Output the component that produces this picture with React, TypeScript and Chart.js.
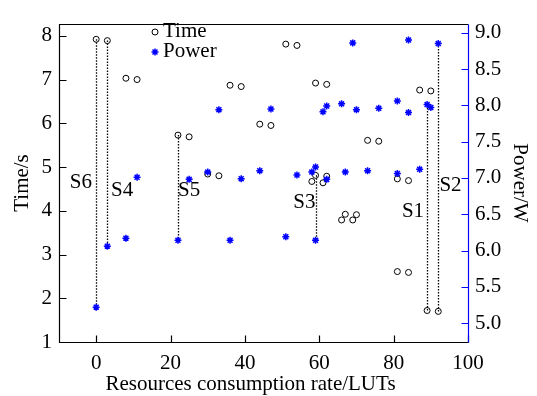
import { useEffect, useRef } from 'react';
import { Chart, registerables } from 'chart.js';
Chart.register(...registerables);

// ---- data ----
const timeX = [0, 3, 8, 11, 22, 25, 30, 33, 36, 39, 44, 47, 51, 54, 58, 59, 61, 62, 59, 62, 66, 67, 69, 70, 73, 76, 81, 84, 81, 84, 87, 90, 89, 92];
const timeY = [7.92, 7.89, 7.03, 7.0, 5.73, 5.69, 4.84, 4.8, 6.87, 6.84, 5.98, 5.95, 7.81, 7.78, 4.67, 4.81, 4.64, 4.79, 6.92, 6.89, 3.79, 3.92, 3.79, 3.91, 5.61, 5.59, 4.73, 4.69, 2.61, 2.59, 6.76, 6.74, 1.72, 1.7];
const powerX = [0, 3, 8, 11, 22, 25, 30, 33, 36, 39, 44, 47, 51, 54, 58, 59, 59, 61, 62, 62, 66, 67, 69, 70, 73, 76, 81, 81, 84, 84, 87, 89, 90, 92];
const powerY = [5.22, 6.06, 6.17, 7.01, 6.14, 6.98, 7.08, 7.94, 6.14, 6.99, 7.1, 7.95, 6.19, 7.04, 7.08, 7.15, 6.14, 7.91, 7.99, 6.98, 8.02, 7.08, 8.86, 7.94, 7.1, 7.96, 7.06, 8.06, 8.9, 7.9, 7.12, 8.01, 7.97, 8.85];

const xMin = -10, xMax = 100, xStep = 20;
const leftMin = 1, leftMax = 8.27, leftStep = 1;
const rightMin = 4.74, rightMax = 9.12, rightStep = 0.5;

const seriesNames = ['Time', 'Power'];
const xTitle = 'Resources consumption rate/LUTs';
const leftTitle = 'Time/s';
const rightTitle = 'Power/W';

// links between a Time point and a Power point (indices), with their names
const linkNames = ['S6', 'S4', 'S5', 'S3', 'S1', 'S2'];
const linkTime = [0, 1, 4, 15, 32, 33];
const linkPower = [0, 1, 4, 16, 31, 33];
// label anchors in data units (x, left-axis value)
const labelX = [-4.1, 7.0, 25.0, 56.0, 85.2, 95.3];
const labelY = [4.64, 4.46, 4.46, 4.19, 3.98, 4.58];

const FONT = "'Liberation Serif', 'Times New Roman', serif";
const FS = 21;
const BLUE = '#0000ff';

export default function App() {
  const ref = useRef<HTMLCanvasElement>(null);
  useEffect(() => {
    const canvas = ref.current!;
    const plugin = {
      id: 'decor',
      beforeDatasetsDraw(chart: any) {
        const ctx = chart.ctx;
        const pm = chart.getDatasetMeta(0);
        const tm = chart.getDatasetMeta(1);
        ctx.save();
        ctx.strokeStyle = '#000';
        ctx.lineWidth = 1.3;
        ctx.setLineDash([1.5, 1.5]);
        linkTime.forEach((ti: number, k: number) => {
          const p = pm.data[linkPower[k]];
          const t = tm.data[ti];
          const x = Math.round(p.x) + 0.5;
          ctx.beginPath();
          ctx.moveTo(x, t.y);
          ctx.lineTo(x, p.y);
          ctx.stroke();
        });
        ctx.restore();
      },
      afterDraw(chart: any) {
        const { ctx, chartArea: a, scales } = chart;
        ctx.save();
        const L = a.left + 0.5, R = a.right + 0.5, T = a.top + 0.5, B = a.bottom + 0.5;
        ctx.lineWidth = 1.2;
        ctx.strokeStyle = '#000';
        ctx.beginPath();
        ctx.moveTo(R, T); ctx.lineTo(L, T); ctx.lineTo(L, B); ctx.lineTo(R, B);
        ctx.stroke();
        const tl = 7;
        // x ticks
        ctx.beginPath();
        scales.x.ticks.forEach((t: any) => {
          const px = Math.round(scales.x.getPixelForValue(t.value)) + 0.5;
          ctx.moveTo(px, B); ctx.lineTo(px, B - tl);
        });
        scales.y.ticks.forEach((t: any) => {
          const py = Math.round(scales.y.getPixelForValue(t.value)) + 0.5;
          ctx.moveTo(L, py); ctx.lineTo(L + tl, py);
        });
        ctx.stroke();
        // right axis blue
        ctx.strokeStyle = BLUE;
        ctx.beginPath();
        ctx.moveTo(R, T); ctx.lineTo(R, B);
        scales.y2.ticks.forEach((t: any) => {
          const py = Math.round(scales.y2.getPixelForValue(t.value)) + 0.5;
          ctx.moveTo(R, py); ctx.lineTo(R - tl, py);
        });
        ctx.stroke();
        // S labels
        ctx.fillStyle = '#000';
        ctx.font = `${FS}px ${FONT}`;
        ctx.textAlign = 'center';
        ctx.textBaseline = 'middle';
        linkNames.forEach((n: string, k: number) => {
          ctx.fillText(n, scales.x.getPixelForValue(labelX[k]), scales.y.getPixelForValue(labelY[k]));
        });
        // x axis title
        ctx.textBaseline = 'alphabetic';
        ctx.fillText(xTitle, a.left + 191.5, a.bottom + 47.5);
        // legend
        const lx = a.left + 96;
        const rows = [a.top + 8, a.top + 28];
        ctx.lineWidth = 1;
        ctx.strokeStyle = '#000';
        ctx.beginPath();
        ctx.arc(lx, rows[0], 3, 0, Math.PI * 2);
        ctx.stroke();
        ctx.strokeStyle = BLUE;
        ctx.lineWidth = 1.5;
        const r = 3.5, y1 = rows[1];
        ctx.beginPath();
        ctx.moveTo(lx - r, y1); ctx.lineTo(lx + r, y1);
        ctx.moveTo(lx, y1 - r); ctx.lineTo(lx, y1 + r);
        const d = r * Math.SQRT1_2;
        ctx.moveTo(lx - d, y1 - d); ctx.lineTo(lx + d, y1 + d);
        ctx.moveTo(lx - d, y1 + d); ctx.lineTo(lx + d, y1 - d);
        ctx.stroke();
        ctx.textAlign = 'left';
        ctx.textBaseline = 'alphabetic';
        ctx.fillStyle = '#000';
        ctx.fillText(seriesNames[0], lx + 8, rows[0] + 4.5);
        ctx.fillText(seriesNames[1], lx + 8, rows[1] + 4.5);
        ctx.restore();
      },
    };

    const tickFont = { family: FONT, size: FS };
    const chart = new Chart(canvas, {
      type: 'scatter',
      data: {
        datasets: [
          {
            label: seriesNames[1],
            data: powerX.map((x, i) => ({ x, y: powerY[i] })),
            yAxisID: 'y2',
            pointStyle: 'star',
            pointRadius: 3.5,
            pointBorderWidth: 1.5,
            borderColor: BLUE,
            backgroundColor: BLUE,
          },
          {
            label: seriesNames[0],
            data: timeX.map((x, i) => ({ x, y: timeY[i] })),
            yAxisID: 'y',
            pointStyle: 'circle',
            pointRadius: 3,
            pointBorderWidth: 1,
            borderColor: '#000',
            backgroundColor: 'rgba(0,0,0,0)',
          },
        ],
      },
      options: {
        animation: false,
        responsive: false,
        devicePixelRatio: 1,
        layout: { padding: { top: 24, left: 0, right: 0, bottom: 0 } },
        plugins: { legend: { display: false }, tooltip: { enabled: false } },
        scales: {
          x: {
            type: 'linear',
            min: xMin,
            max: xMax,
            grid: { display: false, drawTicks: false },
            border: { display: false },
            ticks: { stepSize: xStep, includeBounds: false, font: tickFont, color: '#000', padding: 9, maxRotation: 0 },
            title: { display: false, text: xTitle },
            afterFit: (s: any) => { s.height = 54; },
          },
          y: {
            type: 'linear',
            position: 'left',
            min: leftMin,
            max: leftMax,
            grid: { display: false, drawTicks: false },
            border: { display: false },
            ticks: { stepSize: leftStep, includeBounds: false, font: tickFont, color: '#000', padding: 7 },
            title: { display: true, text: leftTitle, font: tickFont, color: '#000', padding: { top: 10, bottom: 0 } },
            afterFit: (s: any) => { s.width = 59; },
          },
          y2: {
            type: 'linear',
            position: 'right',
            min: rightMin,
            max: rightMax,
            grid: { display: false, drawTicks: false },
            border: { display: false },
            ticks: {
              stepSize: rightStep,
              includeBounds: false,
              font: tickFont,
              color: '#000',
              padding: 7,
              callback: (v: any) => Number(v).toFixed(1),
            },
            title: { display: true, text: rightTitle, font: tickFont, color: '#000', padding: { top: 5, bottom: 0 } },
            afterFit: (s: any) => { s.width = 69; },
          },
        },
      } as any,
      plugins: [plugin],
    });
    return () => chart.destroy();
  }, []);
  return (
    <div style={{ position: 'fixed', left: 0, top: 0, width: 537, height: 396, background: '#fff' }}>
      <canvas ref={ref} width={537} height={396} style={{ width: 537, height: 396, display: 'block' }} />
    </div>
  );
}
